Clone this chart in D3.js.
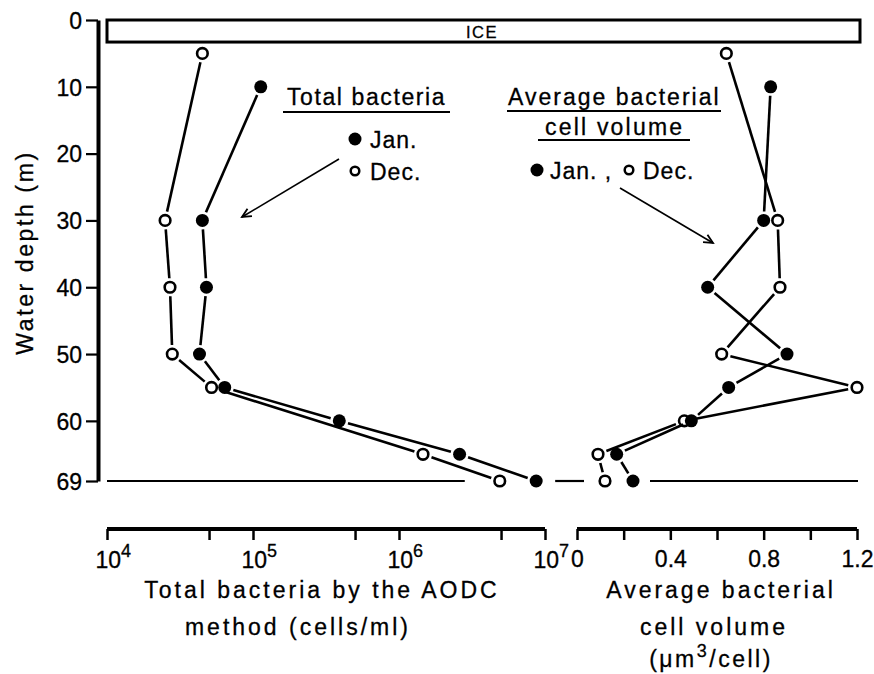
<!DOCTYPE html>
<html><head><meta charset="utf-8">
<script src="https://cdn.jsdelivr.net/npm/d3@7"></script>
<style>
html,body{margin:0;padding:0;background:#fff;}
text{font-family:"Liberation Sans",Arial,sans-serif;fill:#000;stroke:#000;stroke-width:0.3px;}
</style></head>
<body><svg id="c" width="874" height="674"></svg>
<script>
// ---- data ----
const depthTicks = [0, 10, 20, 30, 40, 50, 60, 69];
const bactDepthJan = [10, 30, 40, 50, 55, 60, 65, 69];
const bactJan = [1.13e5, 4.5e4, 4.8e4, 4.3e4, 6.4e4, 3.9e5, 2.6e6, 8.7e6];
const bactDepthDec = [5, 30, 40, 50, 55, 65, 69];
const bactDec = [4.5e4, 2.5e4, 2.7e4, 2.8e4, 5.2e4, 1.46e6, 4.9e6];
const volDepthJan = [10, 30, 40, 50, 55, 60, 65, 69];
const volJan = [0.83, 0.80, 0.56, 0.90, 0.65, 0.49, 0.17, 0.24];
const volDepthDec = [5, 30, 40, 50, 55, 60, 65, 69];
const volDec = [0.64, 0.86, 0.87, 0.62, 1.20, 0.46, 0.09, 0.12];
const bactTicks = [1e4, 5e4, 1e5, 5e5, 1e6, 5e6, 1e7];
const bactTickLabels = [1e4, 1e5, 1e6, 1e7];
const volTicks = [0, 0.2, 0.4, 0.6, 0.8, 1.0, 1.2];
const volTickLabels = [0, 0.4, 0.8, 1.2];
const iceDepth = 3.3;

const svg = d3.select('#c');
const y = d3.scaleLinear().domain([0, 69]).range([20, 481]);
const xB = d3.scaleLog().domain([1e4, 1e7]).range([107, 545]);
const xV = d3.scaleLinear().domain([0, 1.2]).range([577, 857]);
const axisY = 529;
const FS = 23;

// y axis
const ya = svg.append('g').attr('transform', 'translate(98,0)')
  .call(d3.axisLeft(y).tickValues(depthTicks).tickSize(12).tickSizeOuter(0).tickPadding(4));
ya.select('.domain').attr('stroke', '#000').attr('stroke-width', 4);
ya.selectAll('.tick line').attr('stroke', '#000').attr('stroke-width', 2.2);
ya.selectAll('.tick text').attr('font-size', FS).attr('font-family', '"Liberation Sans",Arial,sans-serif').attr('fill', '#000').attr('dy', '0.36em');

svg.append('text').attr('transform', `translate(33,${(y(0)+y(69))/2 + 2}) rotate(-90)`)
  .attr('text-anchor', 'middle').attr('font-size', FS).attr('letter-spacing', 2.6)
  .text('Water depth  (m)');

// ice box
svg.append('rect').attr('x', xB(1e4)).attr('y', y(0)).attr('width', xV(1.2) + 3 - xB(1e4))
  .attr('height', y(iceDepth) - y(0)).attr('fill', '#fff').attr('stroke', '#000').attr('stroke-width', 3);
svg.append('text').attr('x', (xB(1e4) + xV(1.2)) / 2).attr('y', 37.5).attr('text-anchor', 'middle')
  .attr('font-size', 16.5).attr('letter-spacing', 1.5).text('ICE');

// bottom axes
const ba = svg.append('g').attr('transform', `translate(0,${axisY})`)
  .call(d3.axisBottom(xB).tickValues(bactTicks).tickSize(11).tickSizeOuter(0).tickFormat(''));
ba.select('.domain').attr('stroke', '#000').attr('stroke-width', 4).attr('d', `M${xB(1e4)},0H${xB(1e7)}`);
ba.selectAll('.tick line').attr('stroke', '#000').attr('stroke-width', 2.5);
ba.selectAll('.tick').filter(d => bactTickLabels.includes(d)).append('text')
  .attr('y', 39).attr('x', -12).attr('font-size', FS).attr('text-anchor', 'start')
  .each(function(d) {
    const t = d3.select(this);
    t.append('tspan').text('10');
    t.append('tspan').attr('dy', -11).attr('font-size', 18).text(Math.round(Math.log10(d)));
  });

const va = svg.append('g').attr('transform', `translate(0,${axisY})`)
  .call(d3.axisBottom(xV).tickValues(volTicks).tickSize(11).tickSizeOuter(0).tickFormat(''));
va.select('.domain').attr('stroke', '#000').attr('stroke-width', 4).attr('d', `M${xV(0)},0H${xV(1.2)}`);
va.selectAll('.tick line').attr('stroke', '#000').attr('stroke-width', 2.5);
va.selectAll('.tick').filter(d => volTickLabels.includes(d)).append('text')
  .attr('y', 38).attr('font-size', FS).attr('text-anchor', 'middle')
  .text(d => d === 0 ? '0' : d.toFixed(1));

// axis titles
const t1 = [['Total bacteria by the AODC', 322, 598], ['method (cells/ml)', 298, 635]];
t1.forEach(([s, x, yy]) => svg.append('text').attr('x', x).attr('y', yy).attr('text-anchor', 'middle')
  .attr('font-size', FS).attr('letter-spacing', 3).text(s));
svg.append('text').attr('x', 721).attr('y', 598).attr('text-anchor', 'middle').attr('font-size', FS).attr('letter-spacing', 3).text('Average bacterial');
svg.append('text').attr('x', 714).attr('y', 635).attr('text-anchor', 'middle').attr('font-size', FS).attr('letter-spacing', 3).text('cell volume');
const u = svg.append('text').attr('x', 711).attr('y', 667).attr('text-anchor', 'middle').attr('font-size', FS).attr('letter-spacing', 2.5);
u.append('tspan').text('(μm');
u.append('tspan').attr('dy', -10).attr('font-size', 18).text('3');
u.append('tspan').attr('dy', 10).text('/cell)');

// 69 m baseline with gaps around bottom markers
const b69 = [xB(bactDec[bactDec.length - 1]), xB(bactJan[bactJan.length - 1])];
const v69 = [xV(volDec[volDec.length - 1]), xV(volJan[volJan.length - 1])];
const segs = [[xB(1e4), d3.min(b69) - 35], [d3.max(b69) + 19, d3.min(v69) - 21], [d3.max(v69) + 17, xV(1.2) + 1]];
segs.forEach(([a, b]) => svg.append('line').attr('x1', a).attr('x2', b).attr('y1', y(69)).attr('y2', y(69))
  .attr('stroke', '#000').attr('stroke-width', 2.2));

// series drawing: segments with gaps near markers
function series(xs, ds, xScale, filled) {
  const pts = xs.map((v, i) => [xScale(v), y(ds[i])]);
  const g = svg.append('g');
  const gap = 9;
  for (let i = 0; i < pts.length - 1; i++) {
    const [x1, y1] = pts[i], [x2, y2] = pts[i + 1];
    const L = Math.hypot(x2 - x1, y2 - y1);
    if (L <= 2 * gap) continue;
    const ux = (x2 - x1) / L, uy = (y2 - y1) / L;
    g.append('line').attr('x1', x1 + ux * gap).attr('y1', y1 + uy * gap)
      .attr('x2', x2 - ux * gap).attr('y2', y2 - uy * gap)
      .attr('stroke', '#000').attr('stroke-width', 2.6);
  }
  g.selectAll('circle').data(pts).join('circle')
    .attr('cx', d => d[0]).attr('cy', d => d[1])
    .attr('r', filled ? 6.5 : 5.3)
    .attr('fill', filled ? '#000' : '#fff')
    .attr('stroke', '#000').attr('stroke-width', filled ? 0 : 2.6);
}
series(bactDec, bactDepthDec, xB, false);
series(bactJan, bactDepthJan, xB, true);
series(volDec, volDepthDec, xV, false);
series(volJan, volDepthJan, xV, true);

// legends
function ul(x1, x2, yy) {
  svg.append('line').attr('x1', x1).attr('x2', x2).attr('y1', yy).attr('y2', yy).attr('stroke', '#000').attr('stroke-width', 1.8);
}
svg.append('text').attr('x', 287).attr('y', 105).attr('font-size', FS).attr('letter-spacing', 1.6).text('Total bacteria');
ul(283, 450, 112);
svg.append('circle').attr('cx', 355).attr('cy', 139).attr('r', 6.5).attr('fill', '#000');
svg.append('text').attr('x', 370).attr('y', 148).attr('font-size', FS).attr('letter-spacing', 1).text('Jan.');
svg.append('circle').attr('cx', 355).attr('cy', 171).attr('r', 4.3).attr('fill', '#fff').attr('stroke', '#000').attr('stroke-width', 2.5);
svg.append('text').attr('x', 370).attr('y', 180).attr('font-size', FS).attr('letter-spacing', 1).text('Dec.');

svg.append('text').attr('x', 508).attr('y', 105).attr('font-size', FS).attr('letter-spacing', 2).text('Average bacterial');
ul(507, 721, 111);
svg.append('text').attr('x', 545).attr('y', 135).attr('font-size', FS).attr('letter-spacing', 2.2).text('cell volume');
ul(538, 690, 140);
svg.append('circle').attr('cx', 537).attr('cy', 170).attr('r', 6.5).attr('fill', '#000');
svg.append('text').attr('x', 550).attr('y', 179).attr('font-size', FS).attr('letter-spacing', 1).text('Jan. ,');
svg.append('circle').attr('cx', 629).attr('cy', 170).attr('r', 4.3).attr('fill', '#fff').attr('stroke', '#000').attr('stroke-width', 2.5);
svg.append('text').attr('x', 643).attr('y', 179).attr('font-size', FS).attr('letter-spacing', 1).text('Dec.');

// arrows
function arrow(x1, y1, x2, y2) {
  svg.append('line').attr('x1', x1).attr('y1', y1).attr('x2', x2).attr('y2', y2).attr('stroke', '#000').attr('stroke-width', 1.6);
  const a = Math.atan2(y2 - y1, x2 - x1), L = 10, w = 0.45;
  const p = [[x2 - L * Math.cos(a - w), y2 - L * Math.sin(a - w)], [x2, y2], [x2 - L * Math.cos(a + w), y2 - L * Math.sin(a + w)]];
  svg.append('path').attr('d', d3.line()(p)).attr('fill', 'none').attr('stroke', '#000').attr('stroke-width', 1.8);
}
arrow(339, 159, 242, 217);
arrow(620, 188, 713, 243);
</script></body></html>
